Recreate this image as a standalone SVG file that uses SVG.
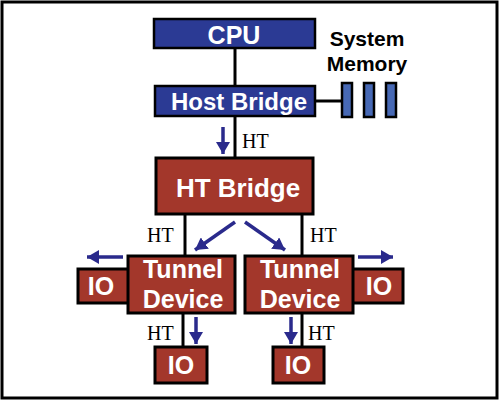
<svg xmlns="http://www.w3.org/2000/svg" width="500" height="401" viewBox="0 0 500 401">
<style>
.blue{fill:#2b3a94;stroke:#000;stroke-width:2.5}
.red{fill:#a3372b;stroke:#000;stroke-width:3}
.mem{fill:#4769b5;stroke:#000;stroke-width:2.5}
.wt{font-family:"Liberation Sans",Arial,sans-serif;font-weight:bold;fill:#fff;text-anchor:middle}
.bt{font-family:"Liberation Sans",Arial,sans-serif;font-weight:bold;fill:#000;text-anchor:middle;font-size:21px}
.ht{font-family:"Liberation Serif","Times New Roman",serif;fill:#000;font-size:20px}
.ln{stroke:#000;stroke-width:3;fill:none}
.ar{stroke:#2a2a8c;stroke-width:3.5;fill:none;marker-end:url(#ah)}
</style>
<defs>
<marker id="ah" markerUnits="userSpaceOnUse" markerWidth="14" markerHeight="14" refX="12" refY="7" orient="auto">
<path d="M0,0 L12,7 L0,14 Z" fill="#2a2a8c"/>
</marker>
</defs>
<rect x="2" y="2" width="495" height="396" fill="#fff" stroke="#000" stroke-width="3"/>
<g id="connectors">
<line class="ln" x1="235" y1="48" x2="235" y2="87"/>
<line class="ln" x1="315" y1="101" x2="342" y2="101"/>
<line class="ln" x1="235" y1="116" x2="235" y2="158"/>
<line class="ln" x1="185" y1="214" x2="185" y2="256"/>
<line class="ln" x1="302" y1="214" x2="302" y2="256"/>
<line class="ln" x1="183" y1="313" x2="183" y2="347"/>
<line class="ln" x1="302" y1="313" x2="302" y2="347"/>
<line class="ar" x1="223" y1="127" x2="223" y2="154"/>
<line class="ar" x1="235" y1="222" x2="195" y2="250"/>
<line class="ar" x1="245" y1="222" x2="285" y2="250"/>
<line class="ar" x1="123" y1="257" x2="87" y2="257"/>
<line class="ar" x1="358" y1="257" x2="393" y2="257"/>
<line class="ar" x1="196" y1="317" x2="196" y2="344"/>
<line class="ar" x1="291" y1="317" x2="291" y2="344"/>
<text class="ht" x="242" y="148">HT</text>
<text class="ht" x="147" y="242">HT</text>
<text class="ht" x="310" y="242">HT</text>
<text class="ht" x="147" y="340">HT</text>
<text class="ht" x="308" y="340">HT</text>
</g>
<g id="cpu">
<rect class="blue" x="154" y="19" width="161" height="29"/>
<text class="wt" x="234" y="44" font-size="25">CPU</text>
</g>
<g id="host-bridge">
<rect class="blue" x="155" y="86" width="160" height="30"/>
<text class="wt" x="239" y="110" font-size="24">Host Bridge</text>
</g>
<g id="system-memory">
<text class="bt" x="367" y="46">System</text>
<text class="bt" x="367" y="71">Memory</text>
<rect class="mem" x="342" y="83" width="10" height="34"/>
<rect class="mem" x="364" y="83" width="10" height="34"/>
<rect class="mem" x="386" y="83" width="10" height="34"/>
</g>
<g id="ht-bridge">
<rect class="red" x="156" y="158" width="157" height="56"/>
<text class="wt" x="238" y="197" font-size="26">HT Bridge</text>
</g>
<g id="io-left">
<rect class="red" x="78" y="269" width="52" height="34"/>
<text class="wt" x="101" y="295" font-size="25">IO</text>
</g>
<g id="io-right">
<rect class="red" x="351" y="269" width="52" height="34"/>
<text class="wt" x="379" y="295" font-size="25">IO</text>
</g>
<g id="tunnel-left">
<rect class="red" x="128" y="256" width="107" height="57"/>
<text class="wt" x="183" y="278" font-size="25">Tunnel</text>
<text class="wt" x="183" y="308" font-size="25">Device</text>
</g>
<g id="tunnel-right">
<rect class="red" x="245" y="256" width="108" height="57"/>
<text class="wt" x="300" y="278" font-size="25">Tunnel</text>
<text class="wt" x="300" y="308" font-size="25">Device</text>
</g>
<g id="io-bottom-left">
<rect class="red" x="155" y="347" width="52" height="36"/>
<text class="wt" x="181" y="374" font-size="25">IO</text>
</g>
<g id="io-bottom-right">
<rect class="red" x="273" y="347" width="51" height="36"/>
<text class="wt" x="298" y="374" font-size="25">IO</text>
</g>
</svg>
